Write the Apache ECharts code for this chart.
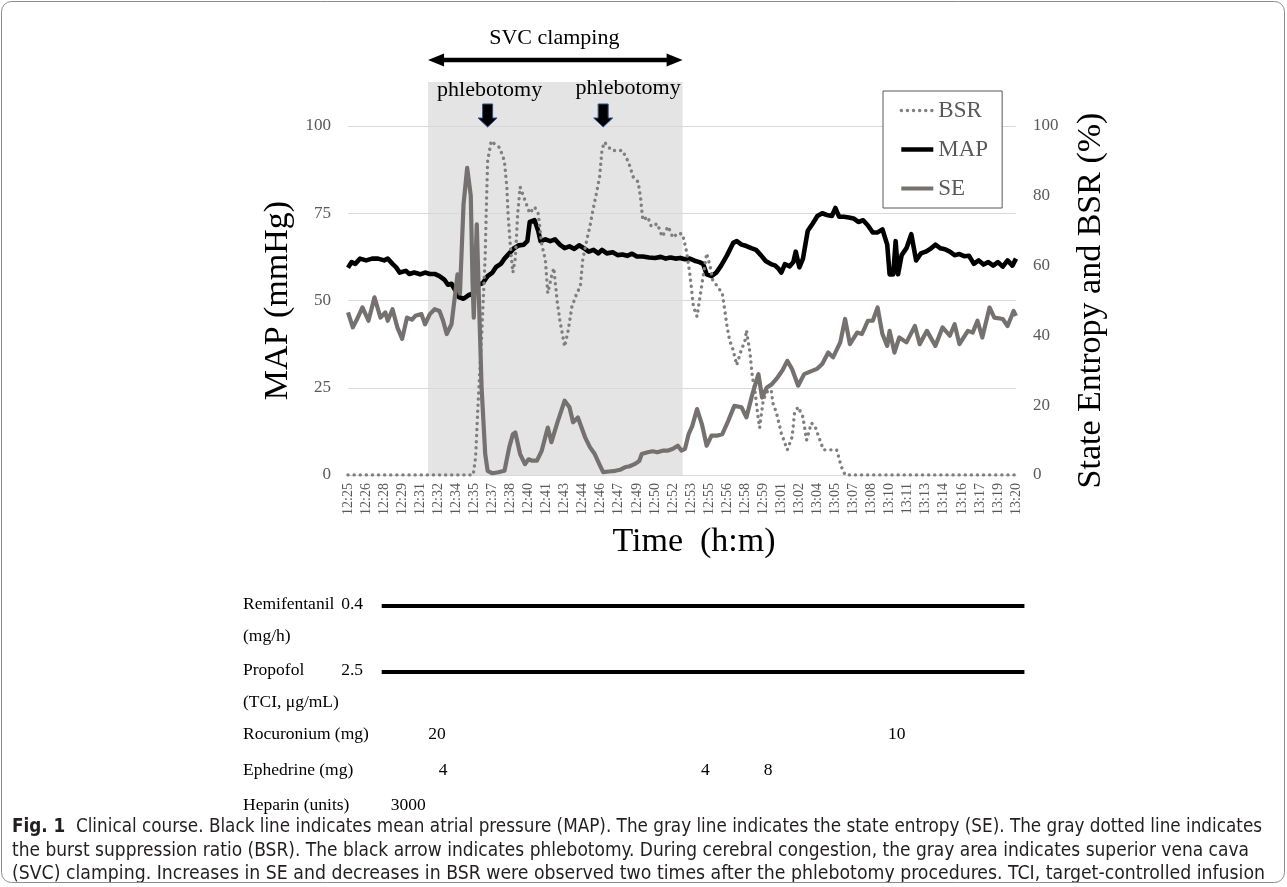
<!DOCTYPE html>
<html><head><meta charset="utf-8">
<script src="https://cdn.jsdelivr.net/npm/echarts@6/dist/echarts.min.js"></script>
<style>html,body{margin:0;padding:0;background:#fff}#c{width:1287px;height:887px}</style>
</head><body><div id="c"></div>
<script>
// ---- DATA (time t = minutes after 12:25) ----
const timeLabels = ['12:25','12:26','12:28','12:29','12:31','12:32','12:34','12:35','12:37','12:38','12:40','12:41','12:43','12:44','12:46','12:47','12:49','12:50','12:52','12:53','12:55','12:56','12:58','12:59','13:01','13:02','13:04','13:05','13:07','13:08','13:10','13:11','13:13','13:14','13:16','13:17','13:19','13:20'];

const mapData = [[0,59.4],[0.3,61],[0.6,60.5],[1.0,62],[1.5,61.5],[2.0,62],[2.5,62],[3.0,61.5],[3.3,62],[3.7,60.5],[4.0,59.5],[4.3,58],[4.8,58.5],[5.1,57.6],[5.5,58],[6.0,57.5],[6.4,58],[6.8,57.6],[7.2,57.6],[7.6,57],[8.0,56],[8.3,54.5],[8.6,54.8],[8.9,53],[9.2,51],[9.6,50.5],[10.0,51.5],[10.4,52],[10.8,54.5],[11.2,55],[11.6,57],[12.0,58],[12.3,59.6],[12.7,60.5],[13.0,62],[13.4,63.5],[13.8,65],[14.2,65.8],[14.6,66],[14.9,67],[15.1,72.5],[15.5,73],[15.8,70],[16.0,67],[16.4,67.5],[16.8,67],[17.2,67.5],[17.6,66],[18.0,65],[18.4,65.5],[18.8,64.8],[19.2,65.8],[19.6,65],[20.0,64],[20.4,64.5],[20.8,63.5],[21.1,64.5],[21.5,63.5],[22.0,63.8],[22.4,63],[22.8,63.2],[23.2,62.8],[23.6,63.4],[24.0,62.6],[24.5,62.6],[25.0,62.3],[25.5,62.2],[26.0,62.5],[26.4,62],[26.8,62.3],[27.2,62],[27.6,62.2],[28.0,61.8],[28.4,62],[28.8,61.4],[29.2,61],[29.5,60.5],[29.8,57.5],[30.2,57],[30.6,58],[31.0,60],[31.5,63],[32.0,66.5],[32.3,67],[32.7,66],[33.1,65.6],[33.5,65],[33.9,64.5],[34.3,63],[34.7,61.3],[35.1,60.5],[35.5,60],[35.8,59],[36.0,58],[36.3,60.4],[36.7,59.8],[37.0,61],[37.2,64],[37.5,59.5],[37.8,62],[38.2,70],[38.6,72],[39.0,74.2],[39.4,75],[39.8,74.5],[40.2,74.2],[40.5,76.5],[40.8,74],[41.2,74],[41.6,73.8],[42.0,73.5],[42.4,72.5],[42.8,73],[43.2,71.5],[43.6,69.5],[44.0,69.5],[44.4,70.4],[44.8,66],[45.0,57.5],[45.3,57.5],[45.5,67],[45.7,57.5],[46.0,63],[46.4,65],[46.8,69],[47.2,61.5],[47.6,63.5],[48.0,64],[48.4,64.8],[48.8,66],[49.2,65],[49.6,64.7],[50.0,64],[50.4,63],[50.8,63.3],[51.2,62.7],[51.6,62.8],[52.0,60.5],[52.4,61.5],[52.8,60.3],[53.2,61],[53.6,60],[54.0,61],[54.4,59.7],[54.8,61.5],[55.2,60],[55.5,62]];

const seData = [[0,46.6],[0.4,42.3],[0.8,45],[1.2,48],[1.7,44.2],[2.2,50.9],[2.7,45.1],[3.1,46.6],[3.3,44.2],[3.7,47.5],[4.1,42.3],[4.5,39],[4.9,45.1],[5.3,44.5],[5.6,45.6],[6.1,46.1],[6.4,43.2],[6.8,46.1],[7.2,47.5],[7.6,47],[7.9,44.2],[8.2,40.4],[8.6,43.2],[8.9,51.8],[9.1,57.5],[9.3,52],[9.6,77.6],[9.9,88],[10.2,80],[10.35,55],[10.45,45.1],[10.7,71.8],[10.85,53.7],[11.1,25],[11.4,6],[11.6,1.2],[12.0,0.5],[12.5,0.8],[13.0,1.2],[13.4,8],[13.7,11.7],[13.9,12.2],[14.3,6],[14.7,3.1],[15.0,4.5],[15.3,4.1],[15.7,4.1],[16.1,7],[16.6,13.6],[16.9,9.4],[17.4,15.1],[18.0,21.3],[18.4,19.4],[18.7,15.1],[19.1,16.5],[19.7,10.8],[20.1,8],[20.5,6],[20.9,3],[21.2,0.8],[21.7,1],[22.2,1.2],[22.6,1.5],[23.0,2.2],[23.4,2.5],[23.8,3.1],[24.2,4],[24.4,6],[24.9,6.5],[25.3,6.8],[25.7,6.5],[26.2,7],[26.6,7],[27.0,7.5],[27.4,8.4],[27.7,7],[28.0,7.5],[28.3,11.7],[28.6,14],[29.0,18.9],[29.4,14.6],[29.8,8.4],[30.2,11.3],[30.7,11.3],[31.1,11.7],[31.6,15.6],[32.1,19.8],[32.7,19.4],[33.1,16.5],[33.6,23.2],[34.1,28.9],[34.4,22.2],[34.8,25.1],[35.2,26],[35.7,28],[36.1,30],[36.5,32.7],[36.9,30.3],[37.4,25.6],[37.9,28.9],[38.6,29.9],[39.0,30.5],[39.4,31.8],[39.9,35.1],[40.3,33.7],[40.9,38],[41.3,44.7],[41.7,37.5],[42.3,40.8],[42.7,40.4],[43.2,44.2],[43.6,44.2],[44.0,48],[44.4,40.4],[44.8,37],[45.0,41.3],[45.4,35.1],[45.8,39.4],[46.4,38],[47.1,42.7],[47.5,37.5],[48.1,41.3],[48.8,37],[49.4,42.3],[50.0,39.9],[50.4,43.2],[50.8,37.5],[51.5,41.3],[51.9,40.8],[52.3,44.2],[52.7,39.4],[53.3,48],[53.7,45.1],[54.4,44.7],[54.8,42.7],[55.3,47],[55.5,45.6]];

const bsrData = [[0,0],[10.4,0],[10.6,5],[10.8,20],[11.1,39.4],[11.4,63],[11.5,77.6],[11.6,90],[11.9,95.7],[12.2,94.8],[12.6,93.8],[13.0,90],[13.2,82.3],[13.3,74.7],[13.5,65.2],[13.7,58],[13.9,62],[14.1,75],[14.3,82.5],[14.6,79.7],[15.1,75],[15.5,76.8],[15.8,75],[16.1,66],[16.4,61.6],[16.6,52.1],[16.9,56.8],[17.1,59.3],[17.4,49.2],[17.6,44.4],[17.9,38.7],[18.0,36.8],[18.3,41.5],[18.6,48.2],[19.0,52],[19.3,54],[19.5,61.6],[19.9,68.3],[20.1,71.2],[20.3,75],[20.7,81.7],[20.9,85.4],[21.1,93.1],[21.3,95.4],[21.9,93],[22.8,93],[23.3,89.7],[23.7,85.4],[24.1,84],[24.3,79.7],[24.5,73],[24.9,74],[25.2,71.2],[25.7,72],[26.1,68.3],[26.6,71.2],[27.0,68],[27.4,69.3],[27.8,69],[28.1,64.5],[28.4,57.8],[28.7,48.2],[29.0,45.4],[29.2,50],[29.5,56.8],[29.8,63.5],[30.1,59.6],[30.3,55.9],[30.7,54],[31.1,52],[31.3,47.3],[31.5,42.4],[31.7,38.7],[32.0,35.8],[32.3,31.5],[32.6,35],[33.0,38.7],[33.1,41.5],[33.4,35],[33.6,28.1],[33.8,24.4],[34.1,15.8],[34.2,13.5],[34.5,21.5],[34.8,23.5],[35.1,26.4],[35.3,20.6],[35.6,17.8],[36.0,12],[36.5,7.2],[36.9,10.9],[37.1,17.8],[37.4,19.5],[37.8,16.6],[38.1,10],[38.5,14.9],[38.8,14],[39.0,12],[39.5,7.2],[40.0,7.2],[40.6,7.2],[41.0,2.3],[41.3,0],[55.5,0]];

// annotations
const clampStart = 6.65, clampEnd = 27.8;          // SVC clamping interval
const phlebotomyTimes = [11.6, 21.2];
const infusionNames = [['Remifentanil','(mg/h)'],['Propofol','(TCI, \u03bcg/mL)']];
const infusionRates = ['0.4','2.5'];
const infusionSpan = [2.8, 56.2];
const bolusNames = ['Rocuronium (mg)','Ephedrine (mg)','Heparin (units)'];
const bolusDoses = [
  [[7.4,'20'],[45.6,'10']],
  [[7.9,'4'],[29.7,'4'],[34.9,'8']],
  [[5.0,'3000']]
];
const captionLines = [
  'Clinical course. Black line indicates mean atrial pressure (MAP). The gray line indicates the state entropy (SE). The gray dotted line indicates',
  'the burst suppression ratio (BSR). The black arrow indicates phlebotomy. During cerebral congestion, the gray area indicates superior vena cava',
  '(SVC) clamping. Increases in SE and decreases in BSR were observed two times after the phlebotomy procedures. TCI, target-controlled infusion'
];

// ---- CHART ----
const SERIF = "'Liberation Serif','Times New Roman',serif";
const NARROW = "'DejaVu Sans Condensed','Liberation Sans Narrow','Open Sans',sans-serif";
const chart = echarts.init(document.getElementById('c'));
chart.setOption({
  animation: false,
  backgroundColor: '#fff',
  grid: {left: 348, top: 126, width: 668, height: 349, containLabel: false, outerBoundsMode: 'none'},
  legend: {
    data: ['BSR','MAP','SE'], orient: 'vertical', left: 883, top: 91,
    padding: [8, 14, 8, 16], itemGap: 16, itemWidth: 32, itemHeight: 14,
    borderColor: '#595959', borderWidth: 1, backgroundColor: '#fff',
    itemStyle: {opacity: 0}, lineStyle: {width: 'inherit'},
    textStyle: {fontFamily: SERIF, fontSize: 23, color: '#595959'}
  },
  xAxis: {
    type: 'value', min: 0, max: 55.5, interval: 1.5,
    name: 'Time  (h:m)', nameLocation: 'middle', nameGap: 50,
    nameTextStyle: {fontFamily: SERIF, fontSize: 34, color: '#000', padding: [0,0,0,24]},
    axisLine: {show: true, lineStyle: {color: '#d9d9d9'}}, axisTick: {show: false},
    splitLine: {show: false},
    axisLabel: {rotate: 90, margin: 8, fontFamily: SERIF, fontSize: 14, color: '#595959',
      formatter: v => timeLabels[Math.round(v / 1.5)] || ''}
  },
  yAxis: [{
    type: 'value', min: 0, max: 100, interval: 25, position: 'left',
    name: 'MAP (mmHg)', nameLocation: 'middle', nameRotate: 90, nameGap: 46,
    nameTextStyle: {fontFamily: SERIF, fontSize: 34, color: '#000'},
    axisLine: {show: false}, axisTick: {show: false},
    splitLine: {lineStyle: {color: '#d9d9d9', width: 1}},
    axisLabel: {margin: 17, fontFamily: SERIF, fontSize: 17, color: '#595959'}
  }, {
    type: 'value', min: 0, max: 100, interval: 20, position: 'right',
    name: 'State Entropy and BSR (%)', nameLocation: 'middle', nameRotate: 90, nameGap: 58,
    nameTextStyle: {fontFamily: SERIF, fontSize: 34, color: '#000'},
    axisLine: {show: false}, axisTick: {show: false}, splitLine: {show: false},
    axisLabel: {margin: 17, fontFamily: SERIF, fontSize: 17, color: '#595959'}
  }],
  series: [{
    name: 'MAP', type: 'line', yAxisIndex: 0, data: mapData, symbol: 'none',
    lineStyle: {color: '#000', width: 4.6, join: 'round'}, itemStyle: {color: '#000'}, z: 3
  }, {
    name: 'BSR', type: 'line', yAxisIndex: 1, data: bsrData, symbol: 'none',
    lineStyle: {color: '#7f7f7f', width: 3.4, type: [0.1, 6], cap: 'round'}, itemStyle: {color: '#7f7f7f'}, z: 4
  }, {
    name: 'SE', type: 'line', yAxisIndex: 1, data: seData, symbol: 'none',
    lineStyle: {color: '#767171', width: 4.2, join: 'round'}, itemStyle: {color: '#767171'}, z: 5
  }]
});

// ---- annotations positioned through the chart's own scales ----
const px = (t, v) => chart.convertToPixel({gridIndex: 0}, [t, v]);
const g = [];
const x0 = px(clampStart, 0), x1 = px(clampEnd, 0);
const bandTop = 82;
g.push({type: 'rect', z: -1, shape: {x: x0[0], y: bandTop, width: x1[0] - x0[0], height: x0[1] - bandTop},
  style: {fill: '#e4e4e4'}});
const ay = 60, hl = 16, hh = 6.5;
g.push({type: 'line', shape: {x1: x0[0] + hl - 2, y1: ay, x2: x1[0] - hl + 2, y2: ay}, style: {stroke: '#000', lineWidth: 4.5}});
g.push({type: 'polygon', shape: {points: [[x0[0], ay], [x0[0] + hl, ay - hh], [x0[0] + hl, ay + hh]]}, style: {fill: '#000'}});
g.push({type: 'polygon', shape: {points: [[x1[0], ay], [x1[0] - hl, ay - hh], [x1[0] - hl, ay + hh]]}, style: {fill: '#000'}});
g.push({type: 'text', x: (x0[0] + x1[0]) / 2 - 1, y: 38, style: {text: 'SVC clamping', font: '22px ' + SERIF, fill: '#000', align: 'center', verticalAlign: 'middle'}});
const phLabelDx = [2, 25], phLabelY = [90, 88];
phlebotomyTimes.forEach((t, i) => {
  const p = px(t, 100); const tx = p[0], ty = p[1] + 1;
  g.push({type: 'polygon', shape: {points: [[tx - 5, ty - 23], [tx + 5, ty - 23], [tx + 5, ty - 9], [tx + 9.5, ty - 9], [tx, ty], [tx - 9.5, ty - 9], [tx - 5, ty - 9]]},
    style: {fill: '#000', stroke: '#2f4f8f', lineWidth: 1}});
  g.push({type: 'text', x: tx + phLabelDx[i], y: phLabelY[i], style: {text: 'phlebotomy', font: '22px ' + SERIF, fill: '#000', align: 'center', verticalAlign: 'middle'}});
});
// drug table
const nameX = 243, rateRight = 363, tableFont = '17.5px ' + SERIF;
const infY = [604, 670], infY2 = [636, 702];
infusionNames.forEach((nm, i) => {
  g.push({type: 'text', x: nameX, y: infY[i], style: {text: nm[0], font: tableFont, fill: '#000', verticalAlign: 'middle'}});
  g.push({type: 'text', x: nameX, y: infY2[i], style: {text: nm[1], font: tableFont, fill: '#000', verticalAlign: 'middle'}});
  g.push({type: 'text', x: rateRight, y: infY[i], style: {text: infusionRates[i], font: tableFont, fill: '#000', align: 'right', verticalAlign: 'middle'}});
  const a = px(infusionSpan[0], 0)[0], b = px(infusionSpan[1], 0)[0];
  g.push({type: 'line', shape: {x1: a, y1: infY[i] + 2, x2: b, y2: infY[i] + 2}, style: {stroke: '#000', lineWidth: 4}});
});
const bolY = [734, 770, 805];
bolusNames.forEach((nm, i) => {
  g.push({type: 'text', x: nameX, y: bolY[i], style: {text: nm, font: tableFont, fill: '#000', verticalAlign: 'middle'}});
  bolusDoses[i].forEach(d => {
    g.push({type: 'text', x: px(d[0], 0)[0], y: bolY[i], style: {text: d[1], font: tableFont, fill: '#000', align: 'center', verticalAlign: 'middle'}});
  });
});
// caption: condensed sans, each line fitted to its width in the figure
const capFont = '20px ' + NARROW, capBold = 'bold 20px ' + NARROW;
const mctx = document.createElement('canvas').getContext('2d');
const measure = (txt, f) => { mctx.font = f; return mctx.measureText(txt).width; };
const capWidths = [1250, 1237, 1253];
const capY = [827, 851, 874];
captionLines.forEach((ln, i) => {
  const w = i === 0 ? measure('Fig. 1', capBold) + measure('  ' + ln, capFont) : measure(ln, capFont);
  g.push({type: 'text', x: 12, y: capY[i], scaleX: capWidths[i] / w, style: {
    text: i === 0 ? '{b|Fig. 1}  ' + ln : ln,
    font: capFont, fill: '#231f20', verticalAlign: 'middle',
    rich: {b: {fontFamily: NARROW, fontSize: 20, fontWeight: 'bold', fill: '#231f20'}}
  }});
});
g.push({type: 'rect', shape: {x: 1.5, y: 1.5, width: 1283, height: 881, r: 10}, style: {fill: 'none', stroke: '#8c8c8c', lineWidth: 1}});
chart.setOption({graphic: g});
</script></body></html>
